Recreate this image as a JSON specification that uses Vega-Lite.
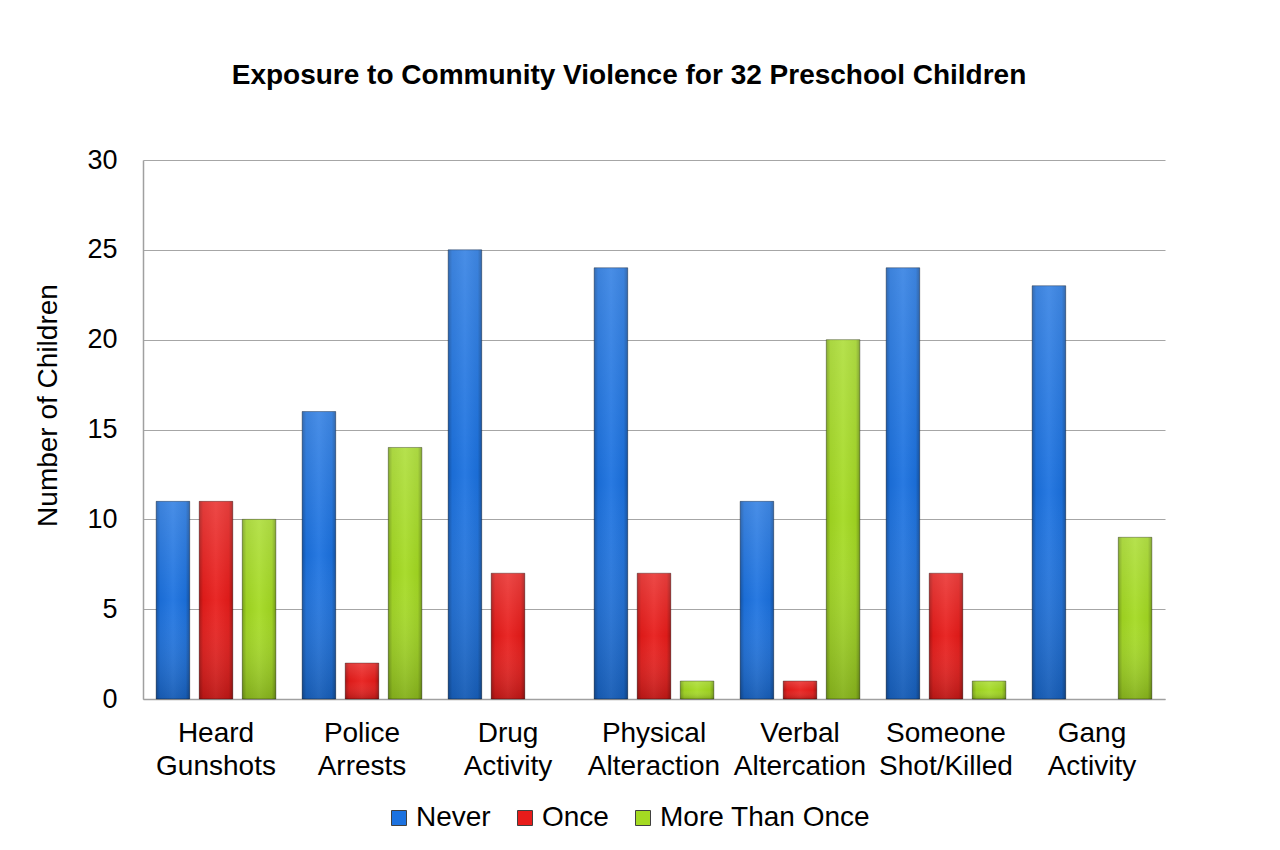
{
  "$schema": "https://vega.github.io/schema/vega-lite/v6.json",
  "width": 1022,
  "height": 539,
  "autosize": {"type": "none"},
  "padding": {"left": 143, "top": 160, "right": 115, "bottom": 151},
  "background": "white",
  "title": {
    "text": "Exposure to Community Violence for 32 Preschool Children",
    "font": "Liberation Sans",
    "fontSize": 28,
    "fontWeight": "bold",
    "color": "black",
    "frame": "group",
    "anchor": "middle",
    "baseline": "alphabetic",
    "offset": 34,
    "dx": -25
  },
  "data": {
    "values": [
      {"activity": "Heard\nGunshots", "frequency": "Never", "children": 11},
      {"activity": "Heard\nGunshots", "frequency": "Once", "children": 11},
      {"activity": "Heard\nGunshots", "frequency": "More Than Once", "children": 10},
      {"activity": "Police\nArrests", "frequency": "Never", "children": 16},
      {"activity": "Police\nArrests", "frequency": "Once", "children": 2},
      {"activity": "Police\nArrests", "frequency": "More Than Once", "children": 14},
      {"activity": "Drug\nActivity", "frequency": "Never", "children": 25},
      {"activity": "Drug\nActivity", "frequency": "Once", "children": 7},
      {"activity": "Drug\nActivity", "frequency": "More Than Once", "children": 0},
      {"activity": "Physical\nAlteraction", "frequency": "Never", "children": 24},
      {"activity": "Physical\nAlteraction", "frequency": "Once", "children": 7},
      {"activity": "Physical\nAlteraction", "frequency": "More Than Once", "children": 1},
      {"activity": "Verbal\nAltercation", "frequency": "Never", "children": 11},
      {"activity": "Verbal\nAltercation", "frequency": "Once", "children": 1},
      {"activity": "Verbal\nAltercation", "frequency": "More Than Once", "children": 20},
      {"activity": "Someone\nShot/Killed", "frequency": "Never", "children": 24},
      {"activity": "Someone\nShot/Killed", "frequency": "Once", "children": 7},
      {"activity": "Someone\nShot/Killed", "frequency": "More Than Once", "children": 1},
      {"activity": "Gang\nActivity", "frequency": "Never", "children": 23},
      {"activity": "Gang\nActivity", "frequency": "Once", "children": 0},
      {"activity": "Gang\nActivity", "frequency": "More Than Once", "children": 9}
    ]
  },
  "encoding": {
    "x": {
      "field": "activity",
      "type": "nominal",
      "sort": null,
      "scale": {"paddingInner": 0.18, "paddingOuter": 0.09},
      "axis": {
        "title": null,
        "labelAngle": 0,
        "labelExpr": "split(datum.label, '\\n')",
        "labelFont": "Liberation Sans",
        "labelFontSize": 28,
        "labelColor": "black",
        "labelLineHeight": 33,
        "labelPadding": 20,
        "labelBaseline": "top",
        "labelLimit": 0,
        "ticks": false,
        "domainColor": "#a0a0a0",
        "domainWidth": 1.5
      }
    },
    "xOffset": {
      "field": "frequency",
      "type": "nominal",
      "sort": ["Never", "Once", "More Than Once"],
      "scale": {"paddingInner": 0.22, "paddingOuter": 0}
    },
    "y": {
      "field": "children",
      "type": "quantitative",
      "scale": {"domain": [0, 30], "nice": false},
      "axis": {
        "values": [0, 5, 10, 15, 20, 25, 30],
        "title": "Number of Children",
        "titleFont": "Liberation Sans",
        "titleFontSize": 28,
        "titleFontWeight": "normal",
        "titleColor": "black",
        "titleX": -87,
        "titleY": 245,
        "titleBaseline": "alphabetic",
        "titleAngle": -90,
        "labelFont": "Liberation Sans",
        "labelFontSize": 27,
        "labelColor": "black",
        "labelPadding": 26,
        "ticks": false,
        "domainColor": "#a0a0a0",
        "domainWidth": 1.5,
        "gridColor": "#a6a6a6",
        "gridWidth": 1.2
      }
    }
  },
  "layer": [
    {
      "mark": {"type": "bar"},
      "encoding": {
        "color": {
          "field": "frequency",
          "type": "nominal",
          "sort": ["Never", "Once", "More Than Once"],
          "scale": {
            "domain": ["Never", "Once", "More Than Once"],
            "range": ["#1c72e0", "#e81c1a", "#a4da22"]
          },
          "legend": {
            "title": null,
            "orient": "none",
            "direction": "horizontal",
            "legendX": 242,
            "legendY": 644,
            "symbolType": "square",
            "symbolSize": 225,
            "symbolStrokeWidth": 1,
            "symbolStrokeColor": "#404040",
            "labelFont": "Liberation Sans",
            "labelFontSize": 28,
            "labelColor": "black",
            "labelOffset": 3,
            "labelLimit": 0,
            "columnPadding": 20,
            "padding": 0
          }
        }
      }
    },
    {
      "mark": {
        "type": "bar",
        "fill": {
          "gradient": "linear",
          "x1": 0, "y1": 0, "x2": 1, "y2": 0,
          "stops": [
            {"offset": 0, "color": "rgba(0,0,0,0.28)"},
            {"offset": 0.12, "color": "rgba(0,0,0,0.05)"},
            {"offset": 0.5, "color": "rgba(255,255,255,0.06)"},
            {"offset": 0.88, "color": "rgba(0,0,0,0.05)"},
            {"offset": 1, "color": "rgba(0,0,0,0.3)"}
          ]
        },
        "stroke": "rgba(0,0,0,0.35)",
        "strokeWidth": 1
      },
      "encoding": {
        "strokeOpacity": {"condition": {"test": "datum.children == 0", "value": 0}, "value": 1}
      }
    },
    {
      "mark": {
        "type": "bar",
        "fill": {
          "gradient": "linear",
          "x1": 0, "y1": 0, "x2": 0, "y2": 1,
          "stops": [
            {"offset": 0, "color": "rgba(255,255,255,0.15)"},
            {"offset": 0.5, "color": "rgba(255,255,255,0)"},
            {"offset": 1, "color": "rgba(0,0,0,0.18)"}
          ]
        }
      },
      "encoding": {}
    }
  ],
  "config": {
    "view": {"stroke": null},
    "font": "Liberation Sans"
  }
}
